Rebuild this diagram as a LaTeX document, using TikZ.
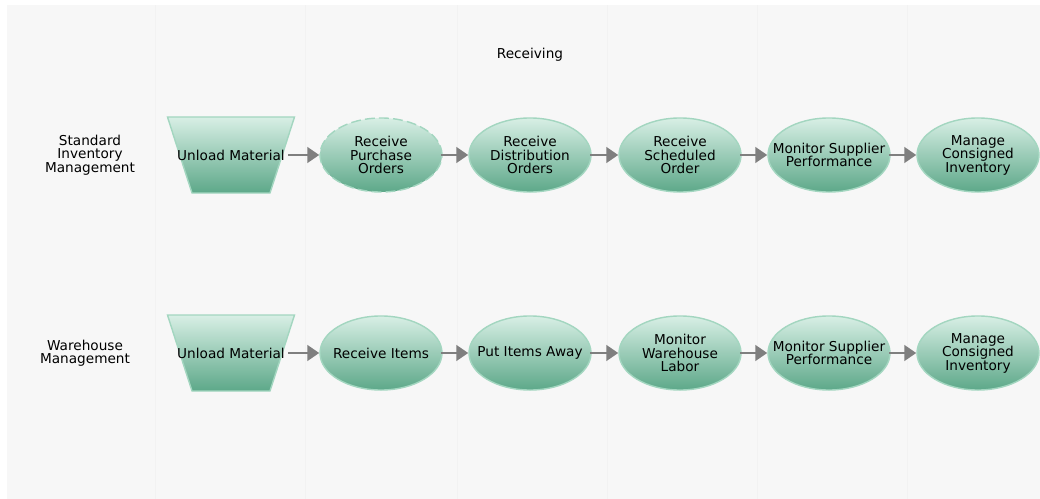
\documentclass[tikz,border=0pt]{standalone}
\usepackage{fontspec}
\setmainfont{DejaVu Sans}
\usepackage{tikz}
\usetikzlibrary{arrows.meta,positioning,shapes.geometric}
\usepackage{xcolor}
\definecolor{laneBg}{HTML}{F7F7F7}
\definecolor{laneLine}{HTML}{F2F2F2}
\definecolor{procTop}{HTML}{D8EFE5}
\definecolor{procBottom}{HTML}{5DA889}
\definecolor{procBorder}{HTML}{A3D6C0}
\definecolor{flowGray}{HTML}{7F7F7F}

\begin{document}
\begin{tikzpicture}[
  x=0.025cm, y=-0.025cm,
  font=\fontsize{9.7}{9.6}\selectfont,
  proc/.style={ellipse, draw=procBorder, line width=1pt, top color=procTop, bottom color=procBottom,
    minimum width=3.05cm, minimum height=1.85cm, inner xsep=-0.35cm, inner ysep=0pt,
    align=center, text=black},
  unloadshape/.style={draw=procBorder, line width=1pt, top color=procTop, bottom color=procBottom},
  lane/.style={align=center, text=black},
  flow/.style={-{Triangle[length=8.5pt,width=11pt]}, line width=2pt, draw=flowGray, shorten <=-1pt}
]

  % Background and column guides
  \useasboundingbox (0,0) rectangle (1040,499);
  \fill[laneBg] (7,5) rectangle (1040,499);
  \foreach \x in {155,305,457,607,757,907} {
    \draw[laneLine, line width=0.5pt] (\x,5) -- (\x,499);
  }

  % Title
  \node[lane] (title) at (530,55) {Receiving};

  % Lane labels
  \node[lane] (stdLane) at (90,155) {Standard\\Inventory\\Management};
  \node[lane] (whLane) at (85,353) {Warehouse\\Management};

  % Unload trapezoids (drawn first, text on top)
  \coordinate (unloadAc) at (231,155);
  \coordinate (unloadBc) at (231,353);
  \foreach \c in {unloadAc,unloadBc} {
    \path[unloadshape] (\c) ++(-63.5,-38) -- ++(127,0) -- ++(-24.5,76) -- ++(-78,0) -- cycle;
  }

  % Row 1: Standard Inventory Management
  \node[lane] (unloadA) at (unloadAc) {Unload Material};
  \node[proc, dashed, dash pattern=on 7pt off 3pt] (purchase) at (381,155) {Receive\\Purchase\\Orders};
  \node[proc] (distrib) at (530,155) {Receive\\Distribution\\Orders};
  \node[proc] (sched) at (680,155) {Receive\\Scheduled\\Order};
  \node[proc] (suppA) at (829,155) {Monitor Supplier\\Performance};
  \node[proc] (consA) at (978,155) {Manage\\Consigned\\Inventory};

  \draw[flow] (unloadA.east) -- (purchase.west);
  \draw[flow] (purchase.east) -- (distrib.west);
  \draw[flow] (distrib.east) -- (sched.west);
  \draw[flow] (sched.east) -- (suppA.west);
  \draw[flow] (suppA.east) -- (consA.west);

  % Row 2: Warehouse Management
  \node[lane] (unloadB) at (unloadBc) {Unload Material};
  \node[proc] (items) at (381,353) {Receive Items};
  \node[proc] (putaway) at (530,353) {Put Items Away};
  \node[proc] (labor) at (680,353) {Monitor\\Warehouse\\Labor};
  \node[proc] (suppB) at (829,353) {Monitor Supplier\\Performance};
  \node[proc] (consB) at (978,353) {Manage\\Consigned\\Inventory};

  \draw[flow] (unloadB.east) -- (items.west);
  \draw[flow] (items.east) -- (putaway.west);
  \draw[flow] (putaway.east) -- (labor.west);
  \draw[flow] (labor.east) -- (suppB.west);
  \draw[flow] (suppB.east) -- (consB.west);

\end{tikzpicture}
\end{document}
